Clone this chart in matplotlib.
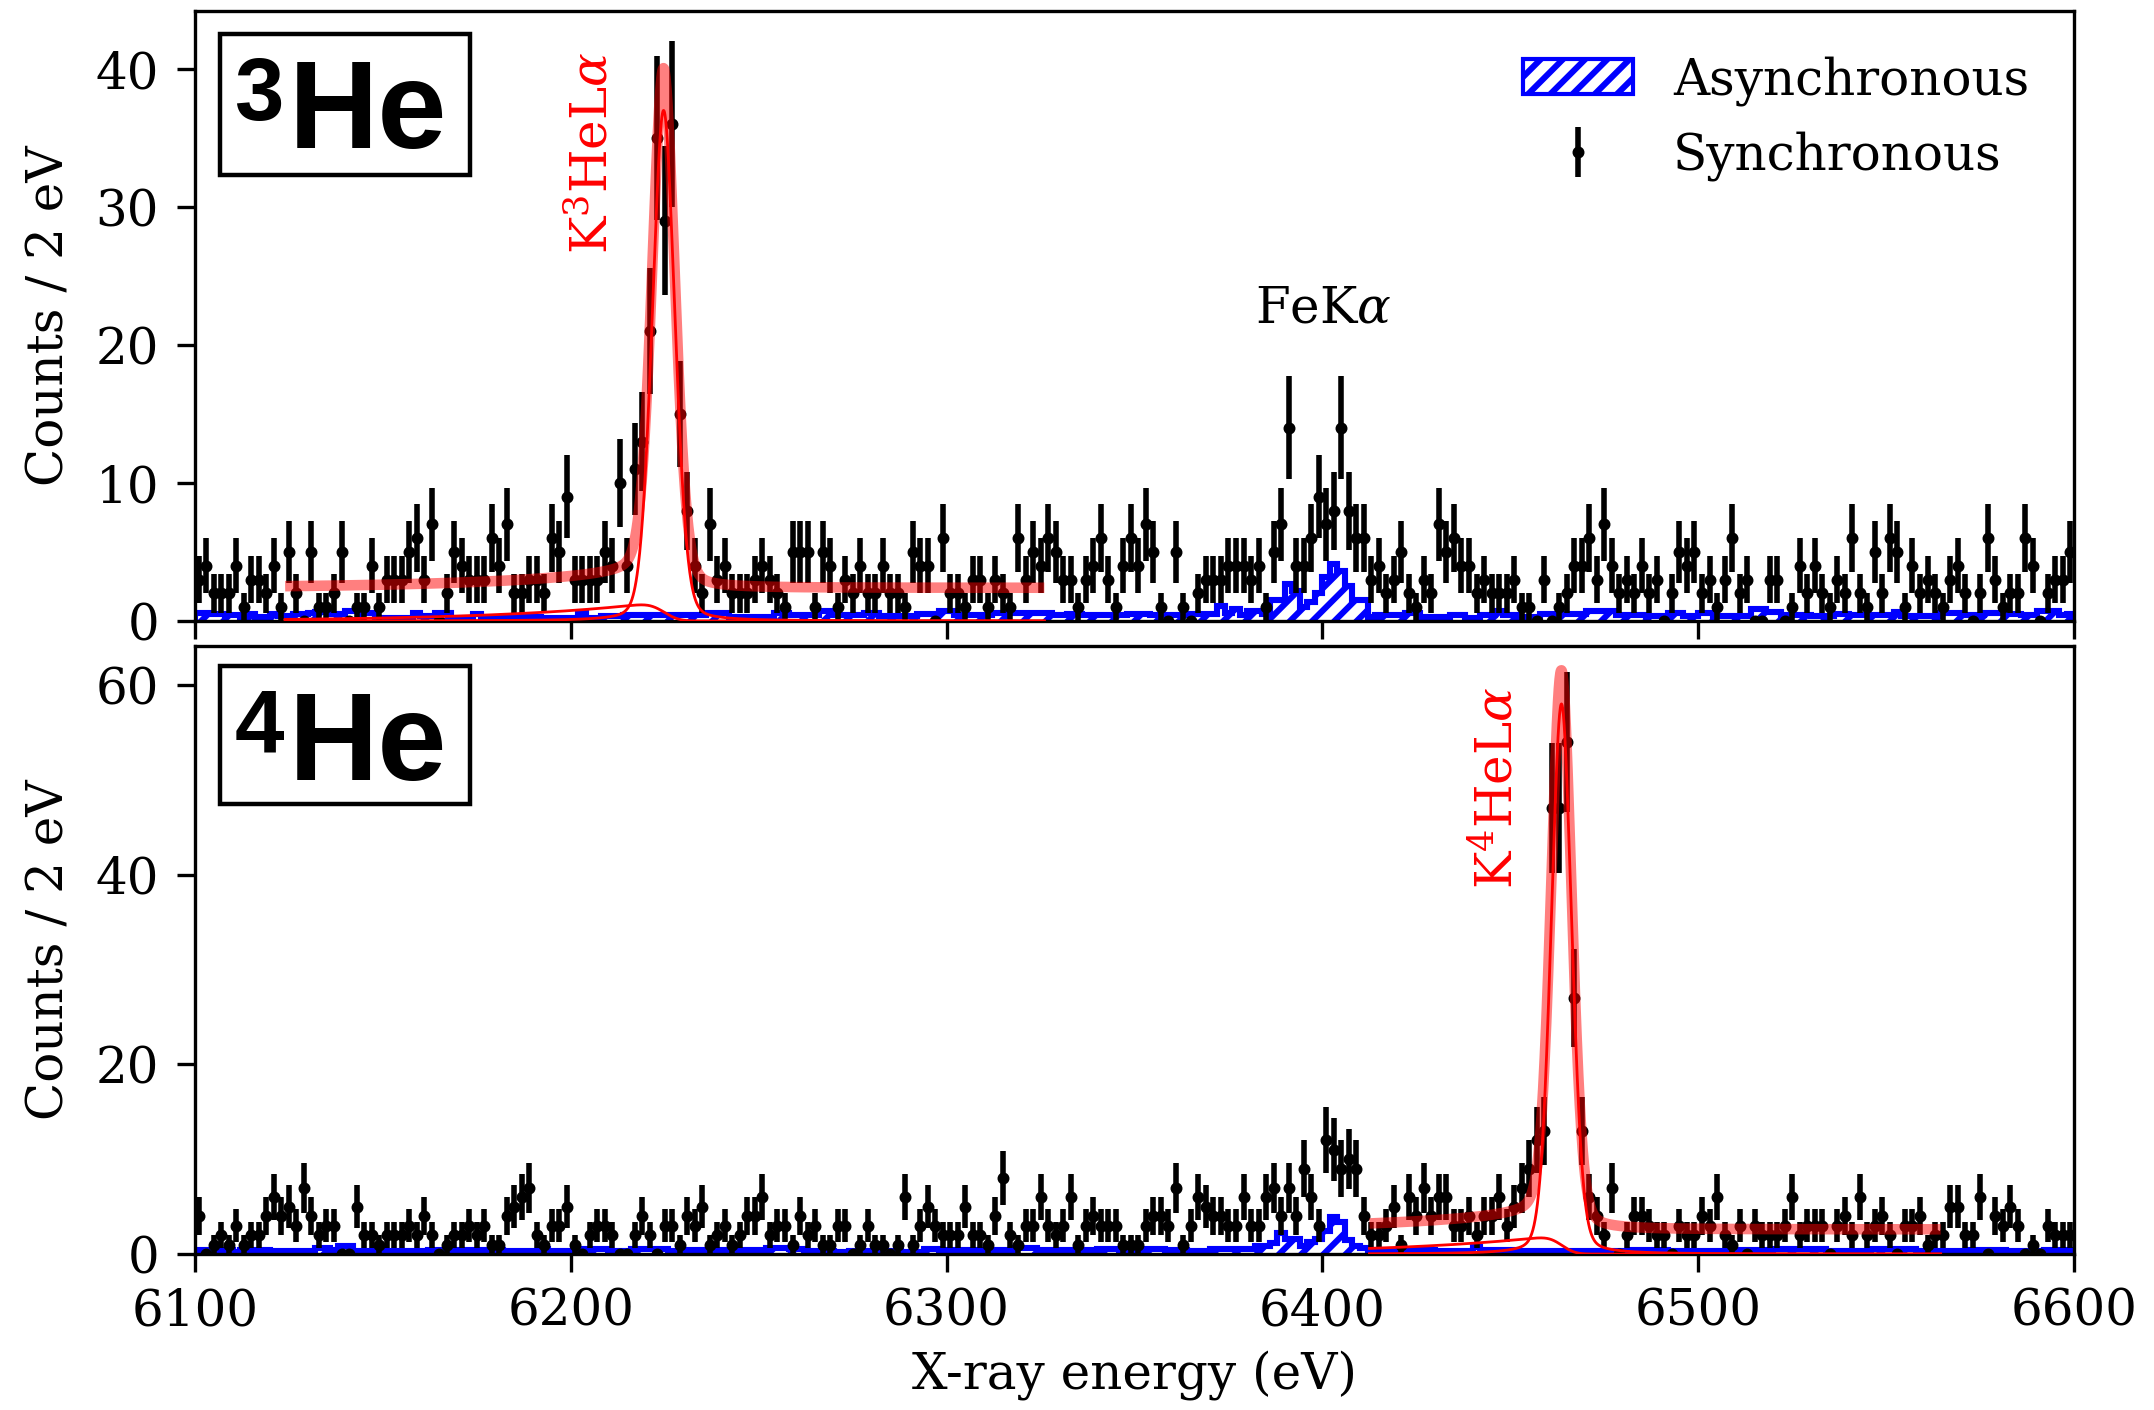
import math
import numpy as np
import matplotlib
matplotlib.use("Agg")
import matplotlib.pyplot as plt
from matplotlib.patches import Rectangle, Patch

plt.rcParams['font.family'] = ['DejaVu Serif']
plt.rcParams['mathtext.fontset'] = 'dejavuserif'
plt.rcParams['hatch.linewidth'] = 2.2
plt.rcParams['hatch.color'] = 'blue'

# ---------------- data ----------------
bin_start = 6100
bin_width = 2
n_bins = 250

# 3He panel: synchronous counts per 2 eV bin
sync_3he = (
    [3, 4, 2, 2, 2, 4, 1, 3, 3, 2, 4, 1, 5, 2, 0, 5, 1, 1, 2, 5, 0, 1, 1, 4, 1, 3, 3, 3, 5, 6,
     3, 7, 0, 2, 5, 4, 3, 3, 3, 6, 4, 7, 2, 2, 3, 3, 2, 6, 5, 9, 3, 3, 3, 3, 5, 4, 10, 4, 11]
    + [13, 21, 35, 29, 36, 15, 8, 4, 2, 7, 3]
    + [4, 2, 2, 2, 3, 4, 3, 2, 1, 5, 5, 5, 1, 5, 4, 1, 3, 2, 4, 2, 2, 4, 2, 2, 1, 5, 4, 4, 0, 6,
       2, 2, 1, 3, 3, 1, 3, 2, 1, 6, 3, 5, 4, 6, 5, 3, 3, 1, 3, 4]
    + [6, 3, 1, 4, 6, 4, 7, 5, 1, 0, 5, 1, 0, 2, 3, 3, 3, 4, 4, 4, 3, 4, 1, 5, 7, 14, 4, 4, 6, 9,
       7, 8, 14, 8, 6, 6, 3, 4, 2, 3, 5, 2, 1, 3, 2, 7, 5, 6, 4, 4, 2, 3, 2, 2, 2, 3, 1, 1, 0, 3,
       0, 1, 2, 4, 4, 6, 3]
    + [7, 4, 2, 3, 2, 4, 2, 3, 0, 2, 5, 4, 5, 2, 3, 1, 3, 6, 2, 3, 0, 0, 3, 3, 0, 1, 4, 2, 4, 2,
       1, 3, 2, 6, 2, 1, 5, 2, 6, 5, 1, 4, 2, 3, 2, 1, 3, 4, 2, 0, 2, 6, 3, 1, 2, 2, 6, 4, 0, 2,
       3, 3, 5]
)

# 3He panel: asynchronous (scaled) counts per bin
async_3he = (
    [0.6, 0.6, 0.5, 0.5, 0.4, 0.4, 0.25, 0.5, 0.3, 0.3, 0.5, 0.35, 0.35, 0.5, 0.5, 0.55, 0.65,
     0.65, 0.5, 0.5, 0.7, 0.7, 0.6, 0.6, 0.25, 0.25, 0.25, 0.25, 0.25, 0.6, 0.35, 0.35, 0.6, 0.6,
     0.25, 0.25, 0.25, 0.5, 0.25, 0.25, 0.25, 0.25, 0.3, 0.3, 0.3, 0.3, 0.25, 0.25, 0.25, 0.25,
     0.25, 0.55, 0.25, 0.25, 0.35, 0.35, 0.35, 0.45, 0.45, 0.4, 0.4, 0.4, 0.4]
    + [0.4] * 5 + [0.55] * 3 + [0.3] * 6 + [0.55] * 2 + [0.45] * 4 + [0.7] * 2 + [0.4] * 4
    + [0.55] * 2 + [0.35] * 5 + [0.5] * 3 + [0.7] * 2 + [0.4] * 5 + [0.55] * 2 + [0.6] * 2
    + [0.55] * 4 + [0.4] * 2 + [0.5] * 2 + [0.45] * 6
    + [0.5] * 3 + [0.4] * 5 + [0.5] * 4 + [1.1, 0.6, 0.9, 0.4, 0.7, 0.7, 0.5]
    + [1.5, 1.5, 2.7, 2.2, 1.0, 1.35, 2.0, 3.2, 4.1, 3.6, 2.5, 1.5, 1.5, 0.3]
    + [0.4] * 4 + [0.6] * 2 + [0.3] * 4 + [0.45] * 2 + [0.25] * 2 + [0.45] * 2 + [0.75]
    + [0.45] * 2 + [0.3] * 3 + [0.5] * 6 + [0.7] * 2
    + [0.75] * 2 + [0.45] * 4 + [0.35] * 3 + [0.6] * 2 + [0.35] * 2 + [0.6] * 2 + [0.35] * 5
    + [0.9] * 2 + [0.65] * 2 + [0.45] * 4 + [0.35] * 3 + [0.5] * 2 + [0.4] * 6 + [0.65]
    + [0.35] * 5 + [0.6] * 3 + [0.4] * 3 + [0.6] * 3 + [0.5] * 2 + [0.4] * 2 + [0.7] * 3
    + [0.4] + [0.5]
)

# 4He panel: synchronous counts per bin
sync_4he = (
    [4, 0, 1, 2, 1, 3, 1, 2, 2, 4, 6, 4, 5, 3, 7, 4, 2, 3, 3, 0, 0, 5, 2, 2, 1, 2, 2, 2, 3, 2,
     4, 2, 0, 1, 2, 2, 3, 2, 3, 1, 1, 4, 5, 6, 7, 2, 1, 3, 3, 5, 1, 0, 2, 3, 3, 2, 0, 0, 2, 4,
     2, 0, 3]
    + [3, 1, 4, 3, 5, 1, 2, 3, 1, 2, 4, 4, 6, 2, 3, 3, 1, 4, 2, 3, 1, 1, 3, 3, 0, 1, 3, 1, 1, 0,
       1, 6, 1, 3, 5, 3, 2, 2, 2, 5, 2, 2, 1, 4, 8, 2, 1, 3, 3, 6, 3, 2, 3, 6, 1, 3, 4]
    + [3, 3, 3, 1, 1, 1, 3, 4, 4, 3, 7, 1, 3, 6, 5, 4, 4, 3, 3, 6, 3, 3, 6, 7, 4, 7, 4, 9, 6, 3,
       12, 11, 9, 10, 9, 4, 2, 2, 3, 5, 1, 6, 4, 7, 4, 6, 6, 3, 3, 4, 2, 4, 4, 6, 3, 5, 7, 9, 12, 13]
    + [47, 47, 54, 27, 13, 6, 4, 2, 7, 0, 2, 4, 4, 3, 2, 2, 0, 3, 2, 2, 4, 3, 6, 2, 1, 3, 0, 3, 2, 2,
       2, 3, 6, 2, 3, 3, 3, 0, 3, 4, 2, 6, 2, 3, 4, 2, 0, 3, 3, 4, 1, 2, 2, 5, 5, 2, 2, 6, 0, 4,
       3, 5, 3, 0, 1, 0, 3, 2, 2, 2]
)

# 4He panel: asynchronous (scaled) counts per bin
async_4he = (
    [0.4] * 5 + [0.25] + [0.4] * 4 + [0.3] * 6 + [0.65] * 2 + [0.4] + [0.85] * 2 + [0.3] * 3
    + [0.35] * 7 + [0.45] * 2 + [0.4] * 8 + [0.3] * 5 + [0.5] + [0.3] * 4 + [0.5] * 4
    + [0.35] * 3 + [0.55] * 5
    + [0.35] * 2 + [0.4] * 11 + [0.65] * 3 + [0.5] * 2 + [0.35] * 4 + [0.25] * 2 + [0.35] * 7
    + [0.25] * 3 + [0.5] * 2 + [0.4] * 10 + [0.6] * 3 + [0.4] * 8
    + [0.5] * 3 + [0.35] * 3 + [0.5] * 3 + [0.4] * 3 + [0.35] * 3 + [0.5] * 6 + [0.8] * 2
    + [1.2, 2.2, 1.6, 1.6, 0.8, 1.3, 1.6, 2.4, 3.9, 3.4, 1.5, 0.8, 0.6]
    + [0.4] * 9 + [0.3] * 5 + [0.7] + [0.4] * 5 + [0.35] * 7 + [0.3] * 8 + [0.45] * 5
    + [0.35] * 9 + [0.45] * 5 + [0.5] * 7 + [0.35] * 6 + [0.5] * 6 + [0.35] * 7 + [0.45] * 5
    + [0.35] * 5 + [0.4] * 4
)

# fit model parameters (background, peak, low-energy tail, fit range)
fit_3he = dict(bg=2.4, amp=37.0, e0=6224.7, sigma=3.1, gamma=3.0, eta=0.2,
               tail_amp=1.4, tail_beta=40.0, lo=6124.0, hi=6326.0)
fit_4he = dict(bg=2.6, amp=58.0, e0=6463.6, sigma=2.8, gamma=2.8, eta=0.2,
               tail_amp=2.0, tail_beta=42.0, lo=6412.5, hi=6564.5)

x_ticks = [6100, 6200, 6300, 6400, 6500, 6600]
y_ticks_3he = [0, 10, 20, 30, 40]
y_ticks_4he = [0, 20, 40, 60]

# ---------------- helpers ----------------
erfc = np.vectorize(math.erfc)


def peak_shape(E, p):
    d = E - p['e0']
    g = np.exp(-0.5 * (d / p['sigma']) ** 2)
    lo = 1.0 / (1.0 + (d / p['gamma']) ** 2)
    return p['amp'] * ((1 - p['eta']) * g + p['eta'] * lo)


def tail_shape(E, p):
    d = E - p['e0']
    s, b = p['sigma'], p['tail_beta']
    return p['tail_amp'] * np.exp(d / b) * 0.5 * erfc(d / (np.sqrt(2) * s) + s / (np.sqrt(2) * b))


edges = bin_start + bin_width * np.arange(n_bins + 1)
centers = edges[:-1] + bin_width / 2

fig = plt.figure(figsize=(10.77, 7.05), dpi=200)
ax1 = fig.add_axes([0.0905, 0.5596, 0.8724, 0.4326])
ax2 = fig.add_axes([0.0905, 0.1106, 0.8724, 0.4312])

panels = [
    (ax1, sync_3he, async_3he, fit_3he, (0, 44.2), y_ticks_3he),
    (ax2, sync_4he, async_4he, fit_4he, (0, 64.1), y_ticks_4he),
]

handles = None
for ax, sync, asyn, fit, ylim, yt in panels:
    sync = np.asarray(sync, dtype=float)
    asyn = np.asarray(asyn, dtype=float)
    ax.stairs(asyn, edges, fill=True, hatch='///', edgecolor='blue', facecolor='none',
              lw=2.2, zorder=1)
    eb = ax.errorbar(centers, sync, yerr=np.sqrt(sync), fmt='o', color='black', ms=3.3,
                     elinewidth=2.0, capsize=0, zorder=2)
    E = np.linspace(fit['lo'], fit['hi'], 1500)
    pk = peak_shape(E, fit)
    tl = tail_shape(E, fit)
    ax.plot(E, fit['bg'] + pk + tl, color='red', lw=3.8, alpha=0.5, zorder=3,
            solid_capstyle='butt')
    ax.plot(E, pk, color='red', lw=1.0, zorder=4)
    ax.plot(E, tl, color='red', lw=1.0, zorder=4)
    ax.set_xlim(6100, 6600)
    ax.set_ylim(*ylim)
    ax.set_xticks(x_ticks)
    ax.set_yticks(yt)
    ax.tick_params(direction='out', length=6.4, width=1.2, labelsize=18)
    ax.tick_params(axis='x', pad=5.5)
    ax.tick_params(axis='y', pad=6.5)
    for sp in ax.spines.values():
        sp.set_linewidth(1.2)
    ax.set_ylabel('Counts / 2 eV', fontsize=18)
    ax.yaxis.set_label_coords(-0.064, 0.5)
    if handles is None:
        handles = [Patch(facecolor='none', edgecolor='blue', hatch='///', lw=1.5), eb]

ax1.tick_params(axis='x', labelbottom=False)
ax2.set_xlabel('X-ray energy (eV)', fontsize=18)
ax2.xaxis.set_label_coords(0.5, -0.158)

ax1.legend(handles, ['Asynchronous', 'Synchronous'], loc='upper right', frameon=False,
           fontsize=18, handlelength=2.2, labelspacing=0.5, handletextpad=0.8)

# annotations
ax1.text(6206.0, 33.9, r'K$^3$HeL$\alpha$', rotation=90, color='red', fontsize=18,
         ha='center', va='center')
ax2.text(6446.7, 49.2, r'K$^4$HeL$\alpha$', rotation=90, color='red', fontsize=18,
         ha='center', va='center')
ax1.text(6400.2, 22.6, r'FeK$\alpha$', fontsize=18, ha='center', va='center')

# isotope boxes
for ax, num, box_y, num_y, he_y in [(ax1, '3', (0.731, 0.231), 0.821, 0.7754),
                                     (ax2, '4', (0.740, 0.227), 0.8257, 0.7796)]:
    ax.add_patch(Rectangle((0.0133, box_y[0]), 0.1331, box_y[1], transform=ax.transAxes,
                           fill=False, lw=1.6, ec='black', zorder=6))
    ax.text(0.021, num_y, num, transform=ax.transAxes, fontsize=32,
            family='Liberation Sans', fontweight='bold', ha='left', va='baseline', zorder=6)
    ax.text(0.050, he_y, 'He', transform=ax.transAxes, fontsize=44.6,
            family='Liberation Sans', fontweight='bold', ha='left', va='baseline', zorder=6)

fig.savefig('out.png', dpi=200)
